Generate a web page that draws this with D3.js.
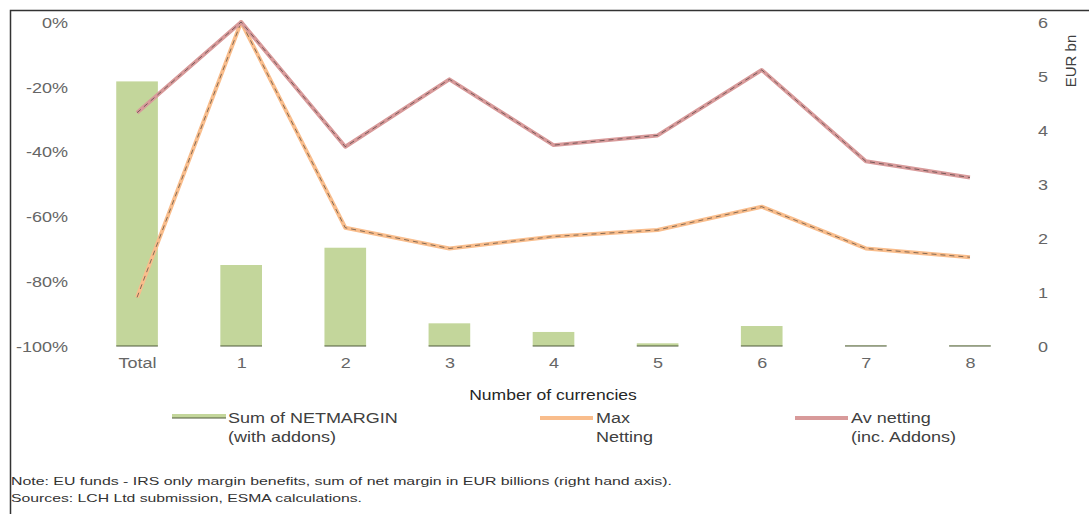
<!DOCTYPE html>
<html>
<head>
<meta charset="utf-8">
<script src="https://cdn.jsdelivr.net/npm/d3@7"></script>
<style>
  body { margin: 0; background: #fff; }
  text { font-family: "Liberation Sans", Arial, sans-serif; }
</style>
</head>
<body>
<svg id="chart" width="1089" height="514"></svg>
<script>
const categories = ["Total", "1", "2", "3", "4", "5", "6", "7", "8"];
// sum of net margin, EUR bn (right axis)
const netMargin = [4.9, 1.5, 1.82, 0.42, 0.26, 0.05, 0.37, 0.01, 0.01];
// % (left axis)
const maxNetting = [-85, 0, -63.5, -69.9, -66.2, -64.2, -57, -69.9, -72.6];
const avNetting = [-28, 0, -38.5, -17.7, -38, -35, -14.8, -43, -48];
const leftTicks = [0, -20, -40, -60, -80, -100];
const rightTicks = [0, 1, 2, 3, 4, 5, 6];
const legendItems = [
  { lines: ["Sum of NETMARGIN", "(with addons)"], color: "#c3d69b", type: "bar" },
  { lines: ["Max", "Netting"], color: "#f9bd8c", type: "line" },
  { lines: ["Av netting", "(inc. Addons)"], color: "#d89a9a", type: "line" }
];
const notes = [
  "Note: EU funds - IRS only margin benefits, sum of net margin in EUR billions (right hand axis).",
  "Sources: LCH Ltd submission, ESMA calculations."
];

const svg = d3.select("#chart");
const plot = { left: 85, right: 1022, top: 22, bottom: 346 };
const sx = 1.2; // horizontal stretch of the source text

// frame (only top and left edges are visible)
svg.append("rect")
  .attr("x", 10.5).attr("y", 10.5)
  .attr("width", 1200).attr("height", 700)
  .attr("fill", "none").attr("stroke", "#333").attr("stroke-width", 1.5);

const x = d3.scalePoint().domain(categories).range([plot.left, plot.right]).padding(0.5);
const yLeft = d3.scaleLinear().domain([-100, 0]).range([plot.bottom, plot.top]);
const yRight = d3.scaleLinear().domain([0, 6]).range([plot.bottom, plot.top]);
const barW = x.step() * 0.4;

function label(g, px, py, str, anchor, size, color, stretch) {
  return g.append("text")
    .attr("transform", "translate(" + px + "," + py + ") scale(" + (stretch || sx) + ",1)")
    .attr("text-anchor", anchor)
    .attr("font-size", size)
    .attr("fill", color)
    .text(str);
}

// left axis
const leftAxis = svg.append("g")
  .attr("transform", "translate(68,0)")
  .call(d3.axisLeft(yLeft).tickValues(leftTicks).tickSize(0).tickFormat(d => d + "%"));
leftAxis.select(".domain").remove();
leftAxis.selectAll("text")
  .attr("x", 0).attr("dy", "0.35em")
  .attr("transform", "scale(" + sx + ",1)")
  .attr("font-size", 15).attr("fill", "#666").attr("font-family", null);

// right axis
const rightAxis = svg.append("g")
  .attr("transform", "translate(1038,0)")
  .call(d3.axisRight(yRight).tickValues(rightTicks).tickSize(0).tickFormat(d3.format("d")));
rightAxis.select(".domain").remove();
rightAxis.selectAll("text")
  .attr("x", 0).attr("dy", "0.35em")
  .attr("transform", "scale(" + sx + ",1)")
  .attr("font-size", 15).attr("fill", "#666").attr("font-family", null);

svg.append("text")
  .attr("transform", "translate(1076,61) rotate(-90)")
  .attr("text-anchor", "middle")
  .attr("font-size", 15)
  .attr("fill", "#404040")
  .text("EUR bn");

// category labels
const catAxis = svg.append("g")
  .attr("transform", "translate(0," + plot.bottom + ")")
  .call(d3.axisBottom(x).tickSize(0));
catAxis.select(".domain").remove();
catAxis.selectAll("text")
  .attr("y", 0).attr("dy", "1.45em")
  .attr("transform", "scale(" + sx + ",1)")
  .attr("font-size", 15).attr("fill", "#666").attr("font-family", null);

// bars
const bars = svg.append("g");
bars.selectAll("rect")
  .data(netMargin)
  .join("rect")
  .attr("x", (d, i) => x(categories[i]) - barW / 2)
  .attr("y", d => yRight(d))
  .attr("width", barW)
  .attr("height", d => yRight(0) - yRight(d))
  .attr("fill", "#c3d69b");
bars.selectAll("line")
  .data(netMargin)
  .join("line")
  .attr("x1", (d, i) => x(categories[i]) - barW / 2)
  .attr("x2", (d, i) => x(categories[i]) + barW / 2)
  .attr("y1", yRight(0)).attr("y2", yRight(0))
  .attr("stroke", "#4f5a3a").attr("stroke-width", 1.2);

// lines
const line = d3.line()
  .x((d, i) => x(categories[i]))
  .y(d => yLeft(d));

[[maxNetting, "#f9bd8c"], [avNetting, "#d89a9a"]].forEach(([vals, col]) => {
  svg.append("path")
    .attr("d", line(vals))
    .attr("fill", "none")
    .attr("stroke", col)
    .attr("stroke-width", 4)
    .attr("stroke-linejoin", "round");
  svg.append("path")
    .attr("d", line(vals))
    .attr("fill", "none")
    .attr("stroke", "#222")
    .attr("stroke-opacity", 0.6)
    .attr("stroke-width", 0.9)
    .attr("stroke-dasharray", "5,4");
});

// axis title
label(svg, 553, 400, "Number of currencies", "middle", 15, "#262626", 1.17);

// legend
const legendX = [172, 540, 795];
legendItems.forEach((it, i) => {
  const g = svg.append("g").attr("transform", "translate(" + legendX[i] + ",0)");
  if (it.type === "bar") {
    g.append("rect").attr("x", 0).attr("y", 414).attr("width", 54).attr("height", 4).attr("fill", it.color);
    g.append("line").attr("x1", 0).attr("x2", 54).attr("y1", 418).attr("y2", 418)
      .attr("stroke", "#4f5a3a").attr("stroke-width", 1);
  } else {
    g.append("line").attr("x1", 0).attr("x2", 53).attr("y1", 418).attr("y2", 418)
      .attr("stroke", it.color).attr("stroke-width", 4);
  }
  it.lines.forEach((t, j) => label(g, 56, 423 + j * 19, t, "start", 15, "#404040", 1.2));
});

// notes
notes.forEach((t, i) => {
  svg.append("text")
    .attr("x", 11).attr("y", 485 + i * 17)
    .attr("font-size", 11.5)
    .attr("fill", "#333")
    .attr("textLength", i === 0 ? 661 : 351)
    .attr("lengthAdjust", "spacingAndGlyphs")
    .text(t);
});
</script>
</body>
</html>
